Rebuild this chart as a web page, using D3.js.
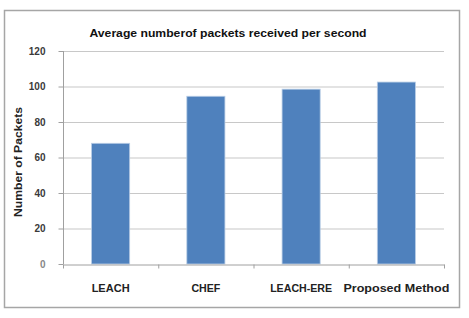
<!DOCTYPE html>
<html><head><meta charset="utf-8">
<script src="https://cdn.jsdelivr.net/npm/d3@7"></script>
<style>body{margin:0;background:#fff}svg{display:block}</style>
</head><body>
<script>
const categories = ["LEACH", "CHEF", "LEACH-ERE", "Proposed Method"];
const values = [68, 94.5, 98.5, 102.5];
const yTicks = [0, 20, 40, 60, 80, 100, 120];
const title = "Average numberof packets received per second";
const yTitle = "Number of Packets";

const W = 469, H = 318;
const svg = d3.select("body").append("svg").attr("width", W).attr("height", H);
svg.append("rect").attr("x", 4.5).attr("y", 10.5).attr("width", 455).attr("height", 297)
  .attr("fill", "#fff").attr("stroke", "#a6a6a6").attr("stroke-width", 1.5);

const x = d3.scaleBand().domain(categories).range([63, 444]).paddingInner(0.6).paddingOuter(0.3);
const y = d3.scaleLinear().domain([0, 120]).range([264, 51]);

// gridlines
svg.append("g").selectAll("line").data(yTicks.filter(d => d > 0)).join("line")
  .attr("x1", 63).attr("x2", 444).attr("y1", d => y(d) + 0.5).attr("y2", d => y(d) + 0.5)
  .attr("stroke", "#c8c8c8").attr("stroke-width", 1.2);

// y axis
const ya = svg.append("g").attr("transform", "translate(63.5,0)")
  .call(d3.axisLeft(y).tickValues(yTicks).tickSize(5).tickPadding(13));
ya.select(".domain").attr("stroke", "#a0a0a0").attr("d", `M0,${y(120)}V${y(0)}`);
ya.selectAll(".tick line").attr("stroke", "#a0a0a0");
ya.selectAll("text").attr("font-family", "Liberation Sans, Arial, sans-serif")
  .attr("font-size", 10).attr("font-weight", "bold").attr("fill", d => d === 0 ? "#888" : "#3a3a3a");

// bars
svg.append("g").selectAll("rect").data(values).join("rect")
  .attr("x", (d, i) => x(categories[i])).attr("width", x.bandwidth())
  .attr("y", d => y(d)).attr("height", d => y(0) - y(d))
  .attr("fill", "#4f81bd").attr("stroke", "#b9cde5").attr("stroke-width", 0.8);

// x axis
const xb = d3.scaleBand().domain(categories).range([63, 444]);
const xa = svg.append("g").attr("transform", `translate(0,${y(0) + 0.5})`)
  .call(d3.axisBottom(xb).tickSize(0).tickPadding(20));
xa.select(".domain").attr("stroke", "#a0a0a0");
xa.selectAll("text").attr("font-family", "Liberation Sans, Arial, sans-serif")
  .attr("font-size", 10).attr("font-weight", "bold").attr("fill", "#222")
  .attr("textLength", d => ({"LEACH": 38, "CHEF": 29, "LEACH-ERE": 62, "Proposed Method": 106})[d])
  .attr("lengthAdjust", "spacingAndGlyphs");
xa.append("g").selectAll("line").data(d3.range(5)).join("line")
  .attr("x1", i => 63 + i * xb.step() + 0.5).attr("x2", i => 63 + i * xb.step() + 0.5)
  .attr("y1", 0).attr("y2", 4).attr("stroke", "#a0a0a0");

// title
svg.append("text").attr("x", 228).attr("y", 37).attr("text-anchor", "middle")
  .attr("font-family", "Liberation Sans, Arial, sans-serif").attr("font-size", 10.5)
  .attr("font-weight", "bold").attr("fill", "#111")
  .attr("textLength", 277).attr("lengthAdjust", "spacingAndGlyphs").text(title);

// y title
svg.append("text").attr("transform", "translate(22,162) rotate(-90)").attr("text-anchor", "middle")
  .attr("font-family", "Liberation Sans, Arial, sans-serif").attr("font-size", 10.5)
  .attr("font-weight", "bold").attr("fill", "#222")
  .attr("textLength", 110).attr("lengthAdjust", "spacingAndGlyphs").text(yTitle);
</script>
</body></html>
